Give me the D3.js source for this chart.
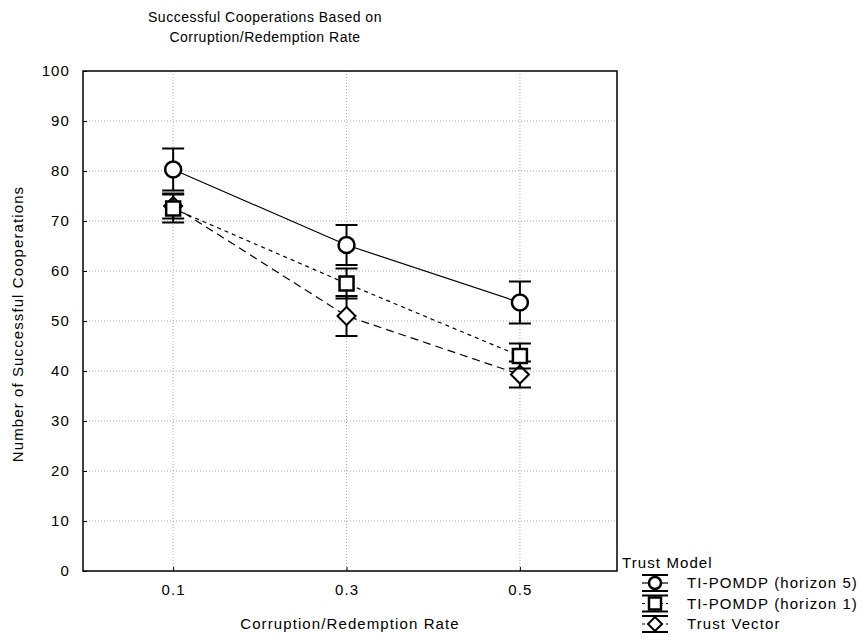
<!DOCTYPE html>
<html><head><meta charset="utf-8">
<script src="https://cdn.jsdelivr.net/npm/d3@7"></script>
<style>body{margin:0;background:#fff}svg{display:block}text{font-family:"Liberation Sans",Arial,sans-serif;fill:#000}</style>
</head><body><svg id="c" width="864" height="640"></svg>
<script>
const categories = [0.1, 0.3, 0.5];
const seriesNames = ["TI-POMDP (horizon 5)", "TI-POMDP (horizon 1)", "Trust Vector"];
const h5Mean = [80.3, 65.2, 53.7];
const h5Err = [4.2, 4.0, 4.2];
const h1Mean = [72.5, 57.5, 43.0];
const h1Err = [2.8, 3.0, 2.5];
const tvMean = [73.0, 51.0, 39.3];
const tvErr = [2.5, 4.0, 2.6];
const yTicks = [0,10,20,30,40,50,60,70,80,90,100];
const xTickLabels = ["0.1","0.3","0.5"];
const title = ["Successful Cooperations Based on", "Corruption/Redemption Rate"];
const xLabel = "Corruption/Redemption Rate";
const yLabel = "Number of Successful Cooperations";
const legendTitle = "Trust Model";

const FS = 15, LS = 1.1;
const svg = d3.select("#c");
const L = 83, R = 617, T = 71, B = 571;
const x = d3.scaleLinear().domain([-0.004, 0.612]).range([L, R]);
const y = d3.scaleLinear().domain([0, 100]).range([B, T]);

// grid
svg.append("g").selectAll("line").data(yTicks.filter(d => d > 0 && d < 100)).join("line")
  .attr("x1", L).attr("x2", R).attr("y1", d => y(d)).attr("y2", d => y(d))
  .attr("stroke", "#aaa").attr("stroke-dasharray", "1,2");
svg.append("g").selectAll("line").data(categories).join("line")
  .attr("x1", d => x(d)).attr("x2", d => x(d)).attr("y1", T).attr("y2", B)
  .attr("stroke", "#aaa").attr("stroke-dasharray", "1,2");

// axes
const yAxis = svg.append("g").attr("transform", `translate(${L},0)`)
  .call(d3.axisLeft(y).tickValues(yTicks).tickSize(-4).tickPadding(13));
const xAxis = svg.append("g").attr("transform", `translate(0,${B})`)
  .call(d3.axisBottom(x).tickValues(categories).tickFormat((d,i) => xTickLabels[i]).tickSize(-4).tickPadding(13));
[yAxis, xAxis].forEach(g => {
  g.select(".domain").remove();
  g.selectAll("line").attr("stroke", "#000");
  g.selectAll("text").attr("font-size", FS).attr("letter-spacing", LS).attr("font-family", "Liberation Sans, Arial, sans-serif");
});
svg.append("rect").attr("x", L).attr("y", T).attr("width", R - L).attr("height", B - T)
  .attr("fill", "none").attr("stroke", "#000").attr("stroke-width", 1.5);

const series = [
  {name: seriesNames[0], mean: h5Mean, err: h5Err, dash: null, shape: "circle"},
  {name: seriesNames[1], mean: h1Mean, err: h1Err, dash: "4,4", shape: "square"},
  {name: seriesNames[2], mean: tvMean, err: tvErr, dash: "8,5", shape: "diamond"}
];

function drawMarker(g, shape, cx, cy) {
  if (shape === "circle") {
    g.append("circle").attr("cx", cx).attr("cy", cy).attr("r", 8)
      .attr("fill", "#fff").attr("stroke", "#000").attr("stroke-width", 2.5);
  } else if (shape === "square") {
    g.append("rect").attr("x", cx - 7).attr("y", cy - 7).attr("width", 14).attr("height", 14)
      .attr("fill", "#fff").attr("stroke", "#000").attr("stroke-width", 2.5);
  } else {
    g.append("path").attr("d", `M${cx},${cy-9}L${cx+9},${cy}L${cx},${cy+9}L${cx-9},${cy}Z`)
      .attr("fill", "#fff").attr("stroke", "#000").attr("stroke-width", 2);
  }
}

const line = d3.line().x((d,i) => x(categories[i])).y(d => y(d));
series.forEach(s => {
  svg.append("path").attr("d", line(s.mean)).attr("fill", "none").attr("stroke", "#000")
    .attr("stroke-width", 1.2).attr("stroke-dasharray", s.dash);
});
[...series].reverse().forEach(s => {
  const g = svg.append("g");
  s.mean.forEach((m, i) => {
    const cx = x(categories[i]);
    const yt = y(m + s.err[i]), yb = y(m - s.err[i]);
    g.append("line").attr("x1", cx).attr("x2", cx).attr("y1", yt).attr("y2", yb).attr("stroke", "#000").attr("stroke-width", 2);
    [yt, yb].forEach(yy => g.append("line").attr("x1", cx - 11).attr("x2", cx + 11).attr("y1", yy).attr("y2", yy).attr("stroke", "#000").attr("stroke-width", 2));
    drawMarker(g, s.shape, cx, y(m));
  });
});

// title
svg.append("text").attr("x", 265).attr("y", 22).attr("text-anchor", "middle").attr("font-size", 14).attr("letter-spacing", 0.5).text(title[0]);
svg.append("text").attr("x", 265).attr("y", 42).attr("text-anchor", "middle").attr("font-size", 14).attr("letter-spacing", 0.5).text(title[1]);
// axis labels
svg.append("text").attr("x", 350).attr("y", 629).attr("text-anchor", "middle").attr("font-size", FS).attr("letter-spacing", LS).text(xLabel);
svg.append("text").attr("transform", `translate(23,${(T + B) / 2 + 3}) rotate(-90)`).attr("text-anchor", "middle").attr("font-size", FS).attr("letter-spacing", LS).text(yLabel);

// legend
svg.append("text").attr("x", 622).attr("y", 568).attr("font-size", FS).attr("letter-spacing", LS).text(legendTitle);
series.forEach((s, i) => {
  const cy = 583 + i * 20.5, cx = 655;
  const g = svg.append("g");
  g.append("line").attr("x1", cx - 13).attr("x2", cx + 13).attr("y1", cy).attr("y2", cy).attr("stroke", "#000").attr("stroke-width", 1.2).attr("stroke-dasharray", s.dash ? "3,3" : null);
  g.append("line").attr("x1", cx).attr("x2", cx).attr("y1", cy - 8).attr("y2", cy + 8).attr("stroke", "#000").attr("stroke-width", 2);
  [cy - 8, cy + 8].forEach(yy => g.append("line").attr("x1", cx - 13).attr("x2", cx + 13).attr("y1", yy).attr("y2", yy).attr("stroke", "#000").attr("stroke-width", 2));
  if (s.shape === "circle") g.append("circle").attr("cx", cx).attr("cy", cy).attr("r", 6).attr("fill", "#fff").attr("stroke", "#000").attr("stroke-width", 2.5);
  else if (s.shape === "square") g.append("rect").attr("x", cx - 6).attr("y", cy - 6).attr("width", 12).attr("height", 12).attr("fill", "#fff").attr("stroke", "#000").attr("stroke-width", 2.5);
  else g.append("path").attr("d", `M${cx},${cy-7}L${cx+7},${cy}L${cx},${cy+7}L${cx-7},${cy}Z`).attr("fill", "#fff").attr("stroke", "#000").attr("stroke-width", 2);
  g.append("text").attr("x", 687).attr("y", cy + 5).attr("font-size", FS).attr("letter-spacing", LS).text(s.name);
});
</script></body></html>
